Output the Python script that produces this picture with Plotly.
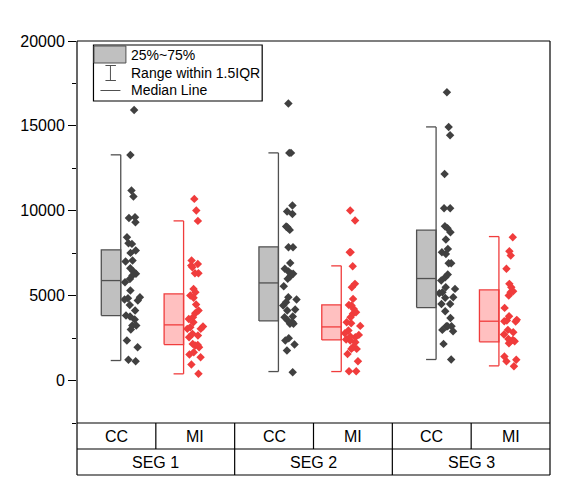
import plotly.graph_objects as go


SEGMENTS = ["SEG 1", "SEG 2", "SEG 3"]
GROUPS = ["CC", "MI"]

# box statistics, order: CC/SEG1, MI/SEG1, CC/SEG2, MI/SEG2, CC/SEG3, MI/SEG3
q1 = [3830, 2120, 3515, 2395, 4300, 2280]
median = [5890, 3280, 5750, 3160, 6010, 3495]
q3 = [7700, 5105, 7875, 4455, 8855, 5340]
whisker_low = [1180, 395, 530, 530, 1240, 865]
whisker_high = [13295, 9405, 13410, 6755, 14940, 8480]

# raw points
cc_seg1 = [15940, 13290, 11190, 10840, 9620, 9580, 9325, 8440, 8090, 8050, 7660,
           7520, 7070, 7010, 6615, 6285, 6420, 6185, 5980, 5790, 5300, 4905, 4770,
           4850, 4710, 4455, 4125, 3770, 3830, 3595, 3240, 3240, 3005, 2355, 1960,
           1220, 1135]
mi_seg1 = [10700, 10015, 9405, 7070, 6870, 6670, 6770, 6320, 6320, 5400, 5205, 5005,
           4870, 4475, 4125, 3965, 3730, 3630, 3435, 3180, 3045, 3045, 3140, 2750,
           2650, 2550, 2160, 2100, 2060, 1960, 1670, 1530, 1375, 940, 395]
cc_seg2 = [16315, 13410, 13410, 10310, 9955, 9815, 9070, 8875, 9030, 7855, 7855, 6930,
           6285, 6285, 6125, 6580, 6420, 5990, 5555, 4905, 4770, 4610, 4420, 4180,
           4125, 3730, 3535, 3435, 3770, 3340, 3340, 2495, 2355, 2120, 1765, 490]
mi_seg2 = [10015, 9425, 7560, 7560, 6735, 5695, 5495, 4810, 4455, 4420, 4220, 4025,
           3930, 3730, 3435, 3375, 3220, 2550, 2945, 2790, 2590, 2690, 2355, 2415,
           2260, 1960, 1865, 1865, 1570, 1135, 550, 550]
cc_seg3 = [16985, 14940, 14450, 12170, 10150, 10150, 9090, 8975, 8735, 8305, 7755,
           7560, 7460, 6910, 6910, 6245, 5890, 6085, 5495, 5400, 5205, 4905, 4870,
           5145, 4515, 4515, 4085, 3690, 3200, 3200, 3200, 2985, 2905, 2160, 1235]
mi_seg3 = [8440, 7615, 7365, 6580, 5695, 5495, 5260, 5205, 5005, 4280, 3790, 3495,
           3535, 3575, 3475, 2985, 2710, 2845, 2395, 2455, 2315, 2200, 2315, 1415,
           1220, 1135, 845]

points = [cc_seg1, mi_seg1, cc_seg2, mi_seg2, cc_seg3, mi_seg3]

FONT = "Liberation Sans, Arial, sans-serif"
STYLE = {
    "CC": dict(fill="#C0C0C0", line="#505050", dot="#404040"),
    "MI": dict(fill="#FFC0C0", line="#F03C3C", dot="#F03C3C"),
}

# the page body adds an 8px margin, so the figure is a bit smaller
# and everything below is in page pixels minus that offset
PAGE = 8
W, H = 570 - PAGE, 486 - PAGE
L, R, T, B = 76.5 - PAGE, 550.3 - PAGE, 41 - PAGE, 423 - PAGE
BOX_W = 0.247
CAP = 0.127
OFFSET = {"CC": -0.445, "MI": 0.352}


def px(x):
    return (x - PAGE - L) / (R - L)


def py(y):
    return (B - (y - PAGE)) / (B - T)


fig = go.Figure()

for i, vals in enumerate(points):
    seg = i // 2
    grp = GROUPS[i % 2]
    st = STYLE[grp]
    wx = 2 * seg + 1 + OFFSET[grp]
    xl = wx - BOX_W

    # box 25%~75%
    fig.add_trace(go.Scatter(
        x=[xl, wx, wx, xl, xl], y=[q1[i], q1[i], q3[i], q3[i], q1[i]],
        mode="lines", fill="toself", fillcolor=st["fill"],
        line=dict(color=st["line"], width=1.3), hoverinfo="skip", showlegend=False))
    # median
    fig.add_trace(go.Scatter(
        x=[xl, wx], y=[median[i], median[i]], mode="lines",
        line=dict(color=st["line"], width=1.3), hoverinfo="skip", showlegend=False))
    # whisker with half caps
    fig.add_trace(go.Scatter(
        x=[wx, wx, None, wx - CAP, wx, None, wx - CAP, wx],
        y=[whisker_low[i], whisker_high[i], None, whisker_high[i], whisker_high[i],
           None, whisker_low[i], whisker_low[i]],
        mode="lines", line=dict(color=st["line"], width=1.3),
        hoverinfo="skip", showlegend=False))
    # jittered points, box itself hidden
    fig.add_trace(go.Box(
        x=[wx + 0.15] * len(vals), y=vals, width=0.24,
        boxpoints="all", jitter=1, pointpos=0,
        fillcolor="rgba(0,0,0,0)", line=dict(width=0, color="rgba(0,0,0,0)"),
        whiskerwidth=0,
        marker=dict(symbol="diamond", size=6.5, color=st["dot"]),
        hoverinfo="y", showlegend=False))

shapes = []
line = dict(color="black", width=1.2)
# frame and category table
shapes.append(dict(type="line", xref="paper", yref="paper", x0=0, x1=0, y0=py(475), y1=1, line=line))
shapes.append(dict(type="line", xref="paper", yref="paper", x0=1, x1=1, y0=py(475), y1=1, line=line))
shapes.append(dict(type="line", xref="paper", yref="paper", x0=0, x1=1, y0=1, y1=1, line=line))
for yy in (423, 449, 475):
    shapes.append(dict(type="line", xref="paper", yref="paper", x0=0, x1=1,
                       y0=py(yy), y1=py(yy), line=line))
for k in range(1, 6):
    shapes.append(dict(type="line", xref="paper", yref="paper", x0=k / 6, x1=k / 6,
                       y0=py(449), y1=0, line=line))
for k in (2, 4):
    shapes.append(dict(type="line", xref="paper", yref="paper", x0=k / 6, x1=k / 6,
                       y0=py(475), y1=py(449), line=line))

# legend drawn by hand
shapes.append(dict(type="rect", xref="paper", yref="paper", x0=px(93), x1=px(262),
                   y0=py(101), y1=py(45), line=dict(color="black", width=1.2),
                   fillcolor="white"))
shapes.append(dict(type="rect", xref="paper", yref="paper", x0=px(93.5), x1=px(125.5),
                   y0=py(63), y1=py(46), line=dict(color="#505050", width=1),
                   fillcolor="#C0C0C0"))
legend_line = dict(color="#505050", width=1)
shapes.append(dict(type="line", xref="paper", yref="paper", x0=px(110), x1=px(110),
                   y0=py(80.5), y1=py(65.5), line=legend_line))
shapes.append(dict(type="line", xref="paper", yref="paper", x0=px(105), x1=px(115.5),
                   y0=py(65.5), y1=py(65.5), line=legend_line))
shapes.append(dict(type="line", xref="paper", yref="paper", x0=px(105), x1=px(115.5),
                   y0=py(80.5), y1=py(80.5), line=legend_line))
shapes.append(dict(type="line", xref="paper", yref="paper", x0=px(100), x1=px(120),
                   y0=py(90.5), y1=py(90.5), line=legend_line))

annotations = []
for text, yy in (("25%~75%", 55), ("Range within 1.5IQR", 73), ("Median Line", 90)):
    annotations.append(dict(text=text, xref="paper", yref="paper", x=px(129), y=py(yy),
                            xanchor="left", yanchor="middle", showarrow=False,
                            font=dict(family=FONT, size=14, color="black")))
for k in range(6):
    annotations.append(dict(text=GROUPS[k % 2], xref="paper", yref="paper",
                            x=(k + 0.5) / 6, y=py(436),
                            xanchor="center", yanchor="middle", showarrow=False,
                            font=dict(family=FONT, size=16, color="black")))
for s, name in enumerate(SEGMENTS):
    annotations.append(dict(text=name, xref="paper", yref="paper",
                            x=(2 * s + 1) / 6, y=py(462),
                            xanchor="center", yanchor="middle", showarrow=False,
                            font=dict(family=FONT, size=16, color="black")))

fig.update_layout(
    width=W, height=H,
    margin=dict(l=L, r=W - R, t=T, b=H - B, pad=0),
    paper_bgcolor="white", plot_bgcolor="white",
    font=dict(family=FONT, size=15.5, color="black"),
    xaxis=dict(range=[0, 6], showticklabels=False, showgrid=False, zeroline=False,
               showline=False, ticks=""),
    yaxis=dict(range=[-2500, 20000], tickvals=[0, 5000, 10000, 15000, 20000],
               tickformat="d",
               ticks="outside", ticklen=8, tickwidth=1.2, tickcolor="black",
               minor=dict(dtick=2500, tick0=0, ticks="outside", ticklen=4,
                          tickwidth=1.2, tickcolor="black", showgrid=False),
               showgrid=False, zeroline=False, showline=False, automargin=False,
               tickfont=dict(family=FONT, size=16, color="black")),
    shapes=shapes,
    annotations=annotations,
    showlegend=False,
)

fig.write_html("out.html")
